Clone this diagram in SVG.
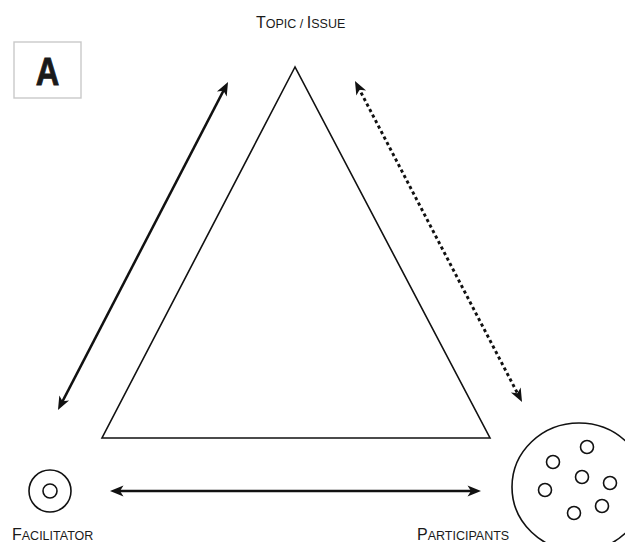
<svg xmlns="http://www.w3.org/2000/svg" width="625" height="542" viewBox="0 0 625 542">
  <style>
    .shape { fill: none; stroke: #111; stroke-width: 1.6; }
    .conn { fill: none; stroke: #111; stroke-width: 2.5; }
    .dotted { stroke-width: 2.9; stroke-dasharray: 3.2 3; }
    .label { font-family: "Liberation Sans", Arial, sans-serif; fill: #1a1a1a; }
    .cap { font-size: 16px; }
    .sc { font-size: 12.5px; }
    .badge { font-family: "Liberation Sans", Arial, sans-serif; font-weight: bold; font-size: 38px; fill: #1a1a1a; stroke: #1a1a1a; stroke-width: 0.8; }
  </style>
  <defs>
    <marker id="head" markerUnits="userSpaceOnUse" markerWidth="16" markerHeight="14" refX="7" refY="7" orient="auto-start-reverse">
      <path d="M0.5,1.5 L14,7 L0.5,12.5 L4,7 Z" fill="#111"/>
    </marker>
  </defs>

  <rect width="625" height="542" fill="#fff"/>

  <!-- panel badge -->
  <g id="badge">
    <rect x="14" y="42" width="67" height="56" fill="#fff" stroke="#c9c9c9" stroke-width="1.4"/>
    <text class="badge" x="47.5" y="85" text-anchor="middle" transform="translate(47.5 0) scale(0.86 1) translate(-47.5 0)">A</text>
  </g>

  <!-- central triangle -->
  <g id="triangle">
    <polygon class="shape" points="295,67 102,438 490,438" stroke-linejoin="miter"/>
  </g>

  <!-- topic node -->
  <g id="topic">
    <text class="label" x="256" y="28"><tspan class="cap">T</tspan><tspan class="sc">OPIC / </tspan><tspan class="cap">I</tspan><tspan class="sc">SSUE</tspan></text>
  </g>

  <!-- facilitator node -->
  <g id="facilitator">
    <circle class="shape" cx="50" cy="491" r="21"/>
    <circle class="shape" cx="50" cy="491" r="7"/>
    <text class="label" x="12" y="540"><tspan class="cap">F</tspan><tspan class="sc">ACILITATOR</tspan></text>
  </g>

  <!-- participants node -->
  <g id="participants">
    <ellipse class="shape" cx="579" cy="487" rx="67" ry="64"/>
    <circle class="shape" cx="587" cy="447" r="6.5"/>
    <circle class="shape" cx="553" cy="462" r="6.5"/>
    <circle class="shape" cx="582" cy="477" r="6.5"/>
    <circle class="shape" cx="610" cy="483" r="6.5"/>
    <circle class="shape" cx="545" cy="490" r="6.5"/>
    <circle class="shape" cx="602" cy="506" r="6.5"/>
    <circle class="shape" cx="574" cy="513" r="6.5"/>
    <text class="label" x="417" y="540"><tspan class="cap">P</tspan><tspan class="sc">ARTICIPANTS</tspan></text>
  </g>

  <!-- connectors -->
  <g id="connectors">
    <line class="conn" x1="61.2" y1="403.8" x2="224.8" y2="88.2" marker-start="url(#head)" marker-end="url(#head)"/>
    <line class="conn dotted" x1="358.2" y1="87.2" x2="518.8" y2="395.8" marker-start="url(#head)" marker-end="url(#head)"/>
    <line class="conn" x1="117" y1="491" x2="474" y2="491" marker-start="url(#head)" marker-end="url(#head)"/>
  </g>
</svg>
